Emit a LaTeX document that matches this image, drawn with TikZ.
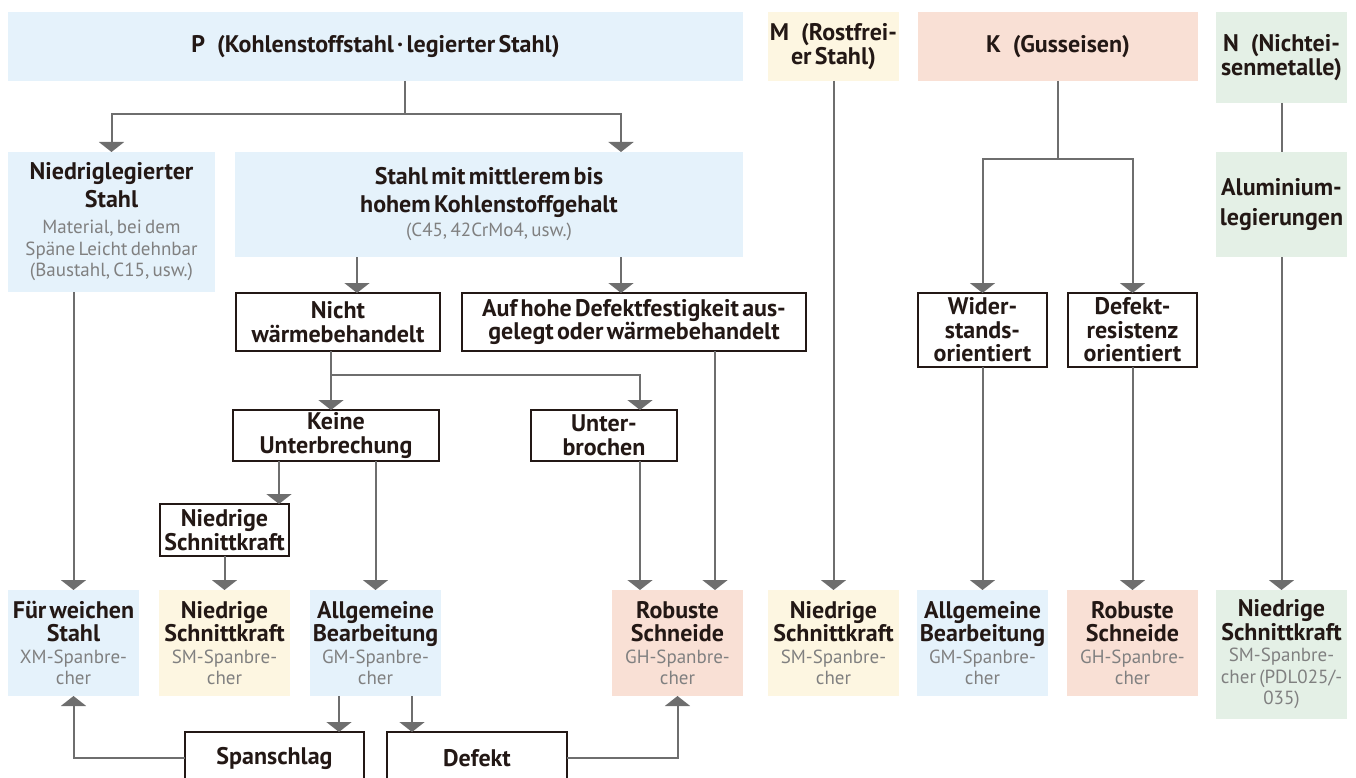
\documentclass[tikz,border=0pt]{standalone}
\usepackage{fontspec}
\setmainfont{PT Sans}
\usetikzlibrary{arrows.meta}
\definecolor{pblau}{HTML}{E5F2FB}
\definecolor{mgelb}{HTML}{FDF6E1}
\definecolor{krot}{HTML}{F9E0D5}
\definecolor{ngruen}{HTML}{E4F0E6}
\definecolor{txt}{HTML}{231815}
\definecolor{gtxt}{HTML}{808080}
\definecolor{lgrau}{HTML}{6E6E6E}
\hyphenpenalty=10000
\newcommand{\hd}[1]{{\bfseries\fontsize{24}{27.5}\selectfont #1\par}}
\newcommand{\hw}[1]{{\bfseries\fontsize{24}{23.5}\selectfont #1\par}}
\newcommand{\gr}[2][0pt]{\vspace{#1}{\color{gtxt}\fontsize{19}{21.5}\selectfont #2\par}}
\tikzset{
  feld/.style={inner sep=0pt, outer sep=0pt, align=center, text=txt},
  wkasten/.style={feld, draw=txt, line width=1.3pt, fill=white},
  pfeil/.style={draw=lgrau, line width=2pt, -{Triangle[width=25pt,length=10pt]}},
  linie/.style={draw=lgrau, line width=2pt}
}
\begin{document}
\begin{tikzpicture}[x=1pt, y=-1pt]
  \useasboundingbox (0,0) rectangle (1356,778);
  \node[feld, fill=pblau, text width=735pt, minimum height=69pt] (P) at (375.5,46.5) {\hd{P\enspace(Kohlenstoffstahl · legierter Stahl)}};
  \node[feld, fill=mgelb, text width=131pt, minimum height=69pt] (M) at (833.5,46.5) {\hw{M\enspace(Rostfrei-\\er Stahl)}};
  \node[feld, fill=krot, text width=280pt, minimum height=69pt] (K) at (1058,46.5) {\hd{K\enspace(Gusseisen)}};
  \node[feld, fill=ngruen, text width=131pt, minimum height=91pt] (N) at (1281.5,57.5) {\hw{N\enspace(Nichtei-\\senmetalle)}};
  \node[feld, fill=pblau, text width=207pt, minimum height=140pt] (NL) at (111.5,222) {\hd{Niedriglegierter\\Stahl}\gr[5pt]{Material, bei dem\\Späne Leicht dehnbar\\(Baustahl, C15, usw.)}};
  \node[feld, fill=pblau, text width=508pt, minimum height=105pt] (ST) at (489,204.5) {\hd{Stahl mit mittlerem bis\\hohem Kohlenstoffgehalt}\gr[3pt]{(C45, 42CrMo4, usw.)}};
  \node[feld, fill=ngruen, text width=131pt, minimum height=105pt] (AL) at (1281.5,204.5) {{\bfseries\fontsize{24}{30}\selectfont Aluminium-\\legierungen\par}};
  \node[wkasten, text width=204pt, minimum height=58pt] (NW) at (338,322) {\hw{Nicht\\wärmebehandelt}};
  \node[wkasten, text width=344pt, minimum height=58pt] (AH) at (634,322) {\hw{Auf hohe Defektfestigkeit aus-\\gelegt oder wärmebehandelt}};
  \node[wkasten, text width=129pt, minimum height=74pt] (WI) at (982.5,330) {\hw{Wider-\\stands-\\orientiert}};
  \node[wkasten, text width=129pt, minimum height=74pt] (DR) at (1132.5,330) {\hw{Defekt-\\resistenz\\orientiert}};
  \node[wkasten, text width=206pt, minimum height=51pt] (KU) at (336,435.5) {\hw{Keine\\Unterbrechung}};
  \node[wkasten, text width=146pt, minimum height=51pt] (UB) at (604,435.5) {\hw{Unter-\\brochen}};
  \node[wkasten, text width=129pt, minimum height=52pt] (NS) at (224.5,530) {\hw{Niedrige\\Schnittkraft}};
  \node[feld, fill=pblau, text width=131pt, minimum height=106pt] (FW) at (73.5,643) {\hw{Für weichen\\Stahl}\gr{XM-Spanbre-\\cher}};
  \node[feld, fill=mgelb, text width=131pt, minimum height=106pt] (SM1) at (224.5,643) {\hw{Niedrige\\Schnittkraft}\gr{SM-Spanbre-\\cher}};
  \node[feld, fill=pblau, text width=131pt, minimum height=106pt] (GM1) at (375.5,643) {\hw{Allgemeine\\Bearbeitung}\gr{GM-Spanbre-\\cher}};
  \node[feld, fill=krot, text width=131pt, minimum height=106pt] (GH1) at (677.5,643) {\hw{Robuste\\Schneide}\gr{GH-Spanbre-\\cher}};
  \node[feld, fill=mgelb, text width=131pt, minimum height=106pt] (SM2) at (833.5,643) {\hw{Niedrige\\Schnittkraft}\gr{SM-Spanbre-\\cher}};
  \node[feld, fill=pblau, text width=131pt, minimum height=106pt] (GM2) at (982.5,643) {\hw{Allgemeine\\Bearbeitung}\gr{GM-Spanbre-\\cher}};
  \node[feld, fill=krot, text width=131pt, minimum height=106pt] (GH2) at (1132.5,643) {\hw{Robuste\\Schneide}\gr{GH-Spanbre-\\cher}};
  \node[feld, fill=ngruen, text width=131pt, minimum height=129pt] (SMN) at (1281.5,654.5) {\hw{Niedrige\\Schnittkraft}\gr{SM-Spanbre-\\cher (PDL025/-\\035)}};
  \node[wkasten, text width=179pt, minimum height=52pt] (SP) at (274.5,758) {\hw{Spanschlag}};
  \node[wkasten, text width=180pt, minimum height=52pt] (DF) at (477,758) {\hw{Defekt}};
  \coordinate (P1) at (405,114);
  \coordinate (P2) at (621,114);
  \coordinate (S1) at (357,0);
  \coordinate (W1) at (331,375);
  \coordinate (W2) at (640,375);
  \coordinate (U1) at (279,0);
  \coordinate (A1) at (715,0);
  \coordinate (K1) at (1058,159);
  \coordinate (G1) at (339,0);
  \coordinate (G2) at (412,0);
  \draw[linie] (P1 |- P.south) -- (P1);
  \draw[pfeil] (P1) -| (NL.north);
  \draw[pfeil] (P1) -| (P2 |- ST.north);
  \draw[pfeil] (S1 |- ST.south) -- (S1 |- NW.north);
  \draw[pfeil] (P2 |- ST.south) -- (P2 |- AH.north);
  \draw[pfeil] (W1 |- NW.south) -- (W1 |- KU.north);
  \draw[pfeil] (W1) -| (W2 |- UB.north);
  \draw[pfeil] (U1 |- KU.south) -- (U1 |- NS.north);
  \draw[pfeil] (GM1.north |- KU.south) -- (GM1.north);
  \draw[pfeil] (NS.south) -- (SM1.north);
  \draw[pfeil] (FW.north |- NL.south) -- (FW.north);
  \draw[pfeil] (W2 |- UB.south) -- (W2 |- GH1.north);
  \draw[pfeil] (A1 |- AH.south) -- (A1 |- GH1.north);
  \draw[pfeil] (M.south) -- (SM2.north);
  \draw[linie] (K.south) -- (K1);
  \draw[pfeil] (K1) -| (WI.north);
  \draw[pfeil] (K1) -| (DR.north);
  \draw[pfeil] (WI.south) -- (GM2.north);
  \draw[pfeil] (DR.south) -- (GH2.north);
  \draw[linie] (N.south) -- (AL.north);
  \draw[pfeil] (AL.south) -- (SMN.north);
  \draw[pfeil] (G1 |- GM1.south) -- (G1 |- SP.north);
  \draw[pfeil] (G2 |- GM1.south) -- (G2 |- DF.north);
  \draw[pfeil] (SP.west) -| (FW.south);
  \draw[pfeil] (DF.east) -| (GH1.south);
\end{tikzpicture}
\end{document}
